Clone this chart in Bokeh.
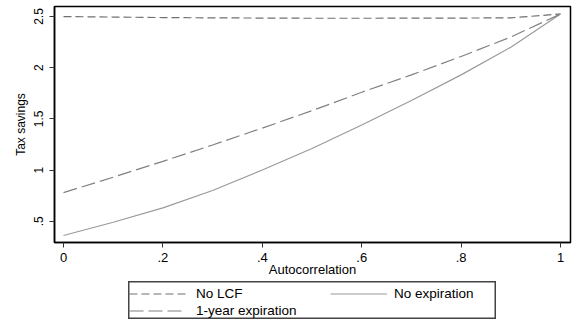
from bokeh.plotting import figure
from bokeh.models import Legend, LegendItem, FixedTicker, Range1d, Spacer
from bokeh.layouts import column, row
from bokeh.embed import file_html
from bokeh.resources import INLINE

# Data
autocorr = [0.0, 0.1, 0.2, 0.3, 0.4, 0.5, 0.6, 0.7, 0.8, 0.9, 1.0]
no_lcf = [2.50, 2.495, 2.49, 2.487, 2.485, 2.483, 2.483, 2.484, 2.485, 2.487, 2.525]
no_expiration = [0.36, 0.49, 0.63, 0.80, 1.00, 1.21, 1.44, 1.68, 1.93, 2.20, 2.525]
one_year = [0.78, 0.93, 1.085, 1.245, 1.41, 1.58, 1.76, 1.93, 2.11, 2.30, 2.525]

x_ticks = [0, 0.2, 0.4, 0.6, 0.8, 1.0]
x_tick_labels = ["0", ".2", ".4", ".6", ".8", "1"]
y_ticks = [0.5, 1.0, 1.5, 2.0, 2.5]
y_tick_labels = [".5", "1", "1.5", "2", "2.5"]

FONT = "Liberation Sans"
STYLES = {
    "No LCF": dict(line_color="#707070", line_width=1.2, line_dash="8 4"),
    "No expiration": dict(line_color="#9a9a9a", line_width=1.2),
    "1-year expiration": dict(line_color="#808080", line_width=1.2, line_dash="14 5"),
}

p = figure(width=573, height=281, output_backend="svg", toolbar_location=None,
           x_range=Range1d(-0.0181, 1.0201), y_range=Range1d(0.292, 2.598),
           min_border_left=54, min_border_right=3, min_border_top=6, min_border_bottom=39)
p.background_fill_color = "white"
p.border_fill_color = "white"
p.outline_line_color = "black"
p.outline_line_width = 1.5
p.grid.visible = False

p.line(autocorr, no_lcf, **STYLES["No LCF"])
p.line(autocorr, no_expiration, **STYLES["No expiration"])
p.line(autocorr, one_year, **STYLES["1-year expiration"])

xa = p.xaxis[0]
xa.ticker = FixedTicker(ticks=x_ticks)
xa.major_label_overrides = {t: l for t, l in zip(x_ticks, x_tick_labels)}
xa.axis_label = "Autocorrelation"

ya = p.yaxis[0]
ya.ticker = FixedTicker(ticks=y_ticks)
ya.major_label_overrides = {t: l for t, l in zip(y_ticks, y_tick_labels)}
ya.axis_label = "Tax savings"
ya.major_label_orientation = "vertical"

for ax in (xa, ya):
    ax.axis_line_color = "black"
    ax.axis_line_width = 1.5
    ax.major_tick_line_color = "#333333"
    ax.major_tick_in = 0
    ax.major_tick_out = 5
    ax.minor_tick_line_color = None
    ax.major_label_text_font = FONT
    ax.major_label_text_color = "black"
    ax.axis_label_text_font = FONT
    ax.axis_label_text_font_style = "normal"
    ax.axis_label_text_color = "black"

xa.major_label_text_font_size = "13px"
xa.axis_label_text_font_size = "13px"
xa.major_label_standoff = 5
xa.axis_label_standoff = -3
ya.major_label_text_font_size = "12px"
ya.axis_label_text_font_size = "12px"
ya.major_label_standoff = 6
ya.axis_label_standoff = 4

# Separate strip below the chart; its outline is the legend box
lg = figure(width=368, height=38, output_backend="svg", toolbar_location=None,
            x_range=Range1d(0, 1), y_range=Range1d(0, 1),
            min_border_left=0, min_border_right=0, min_border_top=0, min_border_bottom=0)
lg.axis.visible = False
lg.grid.visible = False
lg.outline_line_color = "#444444"
lg.outline_line_width = 2
d1 = lg.line([-5, -4], [-5, -4], **STYLES["No LCF"])
d2 = lg.line([-5, -4], [-5, -4], **STYLES["No expiration"])
d3 = lg.line([-5, -4], [-5, -4], **STYLES["1-year expiration"])

def style_legend(lgd, standoff):
    lgd.label_text_font = FONT
    lgd.label_text_font_size = "13.5px"
    lgd.label_text_color = "black"
    lgd.glyph_width = 57
    lgd.glyph_height = 15
    lgd.label_height = 15
    lgd.label_standoff = standoff
    lgd.spacing = 2
    lgd.padding = 3
    lgd.margin = 0
    lgd.border_line_color = None
    lgd.background_fill_alpha = 0

leg_a = Legend(items=[
    LegendItem(label="No LCF", renderers=[d1]),
    LegendItem(label="1-year expiration", renderers=[d3]),
], location=(1, 1))
style_legend(leg_a, 10)
leg_b = Legend(items=[
    LegendItem(label="No expiration", renderers=[d2]),
], location=(202, 18))
style_legend(leg_b, 7)
lg.add_layout(leg_a, "center")
lg.add_layout(leg_b, "center")

layout = column(p, row(Spacer(width=128, height=38), lg, spacing=0), spacing=0)
open("out.html", "w").write(file_html(layout, INLINE))
